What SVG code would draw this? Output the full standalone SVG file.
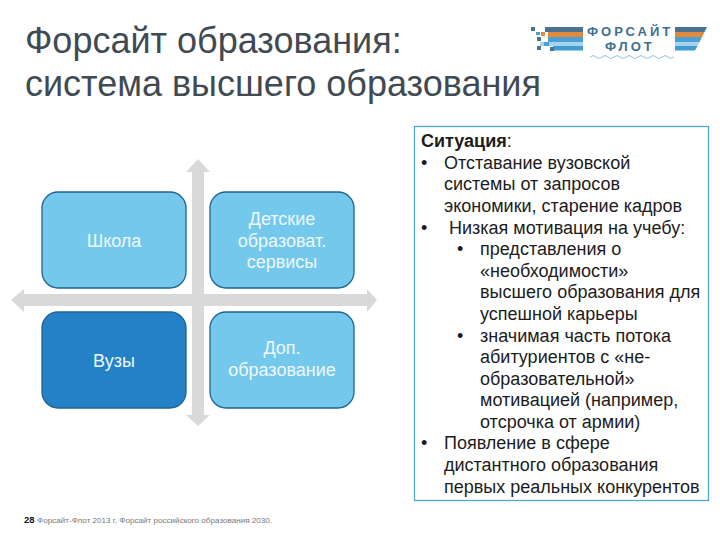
<svg xmlns="http://www.w3.org/2000/svg" width="720" height="540" viewBox="0 0 720 540">
<style>
text{font-family:"Liberation Sans",Arial,sans-serif}
.title{font-size:36px;fill:#3f4a52}
.node{stroke:#1f6391;stroke-width:1.3}
.light{fill:#74c8ec}
.dark{fill:#2481c6}
.nl{font-size:18px;fill:#eef9fd;text-anchor:middle}
.arrow{fill:#d9d9d9}
.body{font-size:18px;fill:#1c1c1c}
</style>
<rect width="720" height="540" fill="#fff"/>
<g id="title"><text class="title" x="25" y="53">Форсайт образования:</text><text class="title" x="25" y="96">система высшего образования</text></g>
<g id="logo">
<path fill="#4a7391" d="M545 27h38v5h-38zM675 27h32l-2.500 5h-29.500z"/>
<path fill="#e2883c" d="M548 32h35v5h-35zM675 32h29.500l-2.500 5h-27z"/>
<path fill="#4aa0d4" d="M548 37h35v5h-35zM675 37h27l-2.500 5h-24.500z"/>
<path fill="#a8d4ea" d="M540 42h43v4h-43zM675 42h24.500l-2 4h-22.500z"/>
<path fill="#3f9ccf" d="M553 46h30v4.500h-30zM675 46h22.500l-2.500 4.500h-20z"/>
<path fill="#4a7391" d="M531 27h4v4h-4zM537 37h4v4h-4zM537 46h4v4h-4zM550 47h4v4h-4z"/>
<path fill="#e2883c" d="M541 32h4v4h-4z"/>
<path fill="#4aa0d4" d="M536 32h4v3h-4zM544 42h5v4h-5z"/>
<text x="587" y="36" font-size="13" font-weight="700" fill="#3d6f92" letter-spacing="3">ФОРСАЙТ</text>
<text x="605" y="51" font-size="13" font-weight="700" fill="#3d6f92" letter-spacing="3">ФЛОТ</text>
<path fill="none" stroke="#8cc4e0" stroke-width="1" d="M590 57q3-3 6 0t6 0 6 0 6 0 6 0 6 0 6 0 6 0 6 0 6 0 6 0 6 0 6 0 6 0"/>
</g>
<g id="connectors">
<path class="arrow" d="M198 159 210 172H204V294H367V289L377 300 367 312V306H204V415H210L198 426 186 415H192V306H24V312L11 300 24 289V294H192V172H186Z"/>
</g>
<g id="node-shkola"><rect class="node light" x="42" y="192" width="144" height="96" rx="16"/><text class="nl" x="114" y="247">Школа</text></g>
<g id="node-detskie"><rect class="node light" x="210" y="192" width="144" height="96" rx="16"/><text class="nl" x="282" y="225">Детские</text><text class="nl" x="282" y="247">образоват.</text><text class="nl" x="282" y="268">сервисы</text></g>
<g id="node-vuzy"><rect class="node dark" x="42" y="312" width="144" height="96" rx="16"/><text class="nl" x="114" y="367">Вузы</text></g>
<g id="node-dop"><rect class="node light" x="210" y="312" width="144" height="96" rx="16"/><text class="nl" x="282" y="354">Доп.</text><text class="nl" x="282" y="376">образование</text></g>
<g id="situation">
<rect x="414.500" y="126.500" width="294" height="374" fill="#fff" stroke="#4fa8c8" stroke-width="1.3"/>
<text class="body" x="421" y="147"><tspan font-weight="700">Ситуация</tspan>:</text>
<text class="body" x="421" y="169">•</text><text class="body" x="444" y="169">Отставание вузовской</text>
<text class="body" x="444" y="190">системы от запросов</text>
<text class="body" x="444" y="212">экономики, старение кадров</text>
<text class="body" x="421" y="234">•</text><text class="body" x="449" y="234">Низкая мотивация на учебу:</text>
<text class="body" x="457" y="255">•</text><text class="body" x="480" y="255">представления о</text>
<text class="body" x="480" y="277">«необходимости»</text>
<text class="body" x="480" y="298">высшего образования для</text>
<text class="body" x="480" y="320">успешной карьеры</text>
<text class="body" x="457" y="342">•</text><text class="body" x="480" y="342">значимая часть потока</text>
<text class="body" x="480" y="363">абитуриентов с «не-</text>
<text class="body" x="480" y="385">образовательной»</text>
<text class="body" x="480" y="406">мотивацией (например,</text>
<text class="body" x="480" y="428">отсрочка от армии)</text>
<text class="body" x="421" y="449">•</text><text class="body" x="444" y="449">Появление в сфере</text>
<text class="body" x="444" y="471">дистантного образования</text>
<text class="body" x="444" y="493">первых реальных конкурентов</text>
</g>
<g id="footer"><text x="24" y="523" font-size="9.500" font-weight="700" fill="#111">28</text><text x="37" y="523" font-size="8.100" fill="#777">Форсайт-Флот 2013 г. Форсайт российского образования 2030.</text></g>
</svg>
